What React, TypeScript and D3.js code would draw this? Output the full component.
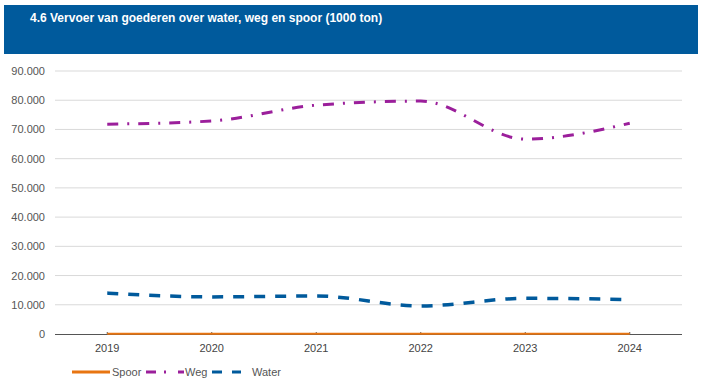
import React from "react";
import * as d3 from "d3";

const years = ["2019", "2020", "2021", "2022", "2023", "2024"];
const spoor = [100, 100, 100, 100, 100, 100];
const weg = [71800, 72900, 78300, 79700, 66700, 72100];
const water = [14000, 12700, 13000, 9600, 12200, 11800];
const yTicks = [0, 10000, 20000, 30000, 40000, 50000, 60000, 70000, 80000, 90000];
const title = "4.6 Vervoer van goederen over water, weg en spoor (1000 ton)";

const series = [
  { name: "Spoor", values: spoor, color: "#e87511", dash: "", width: 2 },
  { name: "Weg", values: weg, color: "#9b1f9b", dash: "11,9,2,9", width: 3 },
  { name: "Water", values: water, color: "#005a9c", dash: "11,10", width: 3.5 },
];

export default function App() {
  const W = 704, H = 383;
  const x = d3.scaleBand().domain(years).range([55, 682]);
  const y = d3.scaleLinear().domain([0, 90000]).range([334, 71]);
  const cx = (d: string) => (x(d) ?? 0) + x.bandwidth() / 2;
  const fmt = (v: number) => d3.format(",")(v).replace(/,/g, ".");
  const line = (vals: number[]) =>
    d3.line<number>().x((_, i) => cx(years[i])).y((v) => y(v)).curve(d3.curveMonotoneX)(vals) ?? "";
  const font = "Arial, 'Liberation Sans', sans-serif";
  const legendItems = [
    { s: series[0], x0: 72, x1: 110, tx: 112, dash: "" },
    { s: series[1], x0: 146, x1: 184, tx: 185, dash: "10,8,2,12" },
    { s: series[2], x0: 212, x1: 241, tx: 252, dash: "10,10" },
  ];
  return (
    <svg width={W} height={H} style={{ position: "absolute", left: 0, top: 0 }} fontFamily={font}>
      <rect x={0} y={0} width={W} height={H} fill="#fff" />
      <rect x={4} y={5} width={694} height={49} fill="#005a9c" />
      <text x={30} y={22} fill="#fff" fontSize={12} fontWeight="bold">{title}</text>
      {yTicks.map((t) => (
        <g key={t}>
          {t > 0 && <line x1={55} x2={682} y1={y(t)} y2={y(t)} stroke="#d9d9d9" strokeWidth={1} />}
          <text x={45} y={y(t) + 4} textAnchor="end" fontSize={11} fill="#555">{fmt(t)}</text>
        </g>
      ))}
      <line x1={55} x2={682} y1={334.5} y2={334.5} stroke="#555" strokeWidth={1} />
      {years.map((yr) => (
        <g key={yr}>
          <line x1={cx(yr)} x2={cx(yr)} y1={332} y2={334} stroke="#555" strokeWidth={1} />
          <text x={cx(yr)} y={352} textAnchor="middle" fontSize={11} fill="#444">{yr}</text>
        </g>
      ))}
      {series.map((s) => (
        <path key={s.name} d={line(s.values)} fill="none" stroke={s.color} strokeWidth={s.width}
          strokeDasharray={s.dash || undefined} strokeLinecap="butt" />
      ))}
      {legendItems.map(({ s, x0, x1, tx, dash }) => (
        <g key={s.name}>
          <line x1={x0} x2={x1} y1={372} y2={372} stroke={s.color} strokeWidth={3}
            strokeDasharray={dash || undefined} />
          <text x={tx} y={376} fontSize={11} fill="#555">{s.name}</text>
        </g>
      ))}
    </svg>
  );
}
